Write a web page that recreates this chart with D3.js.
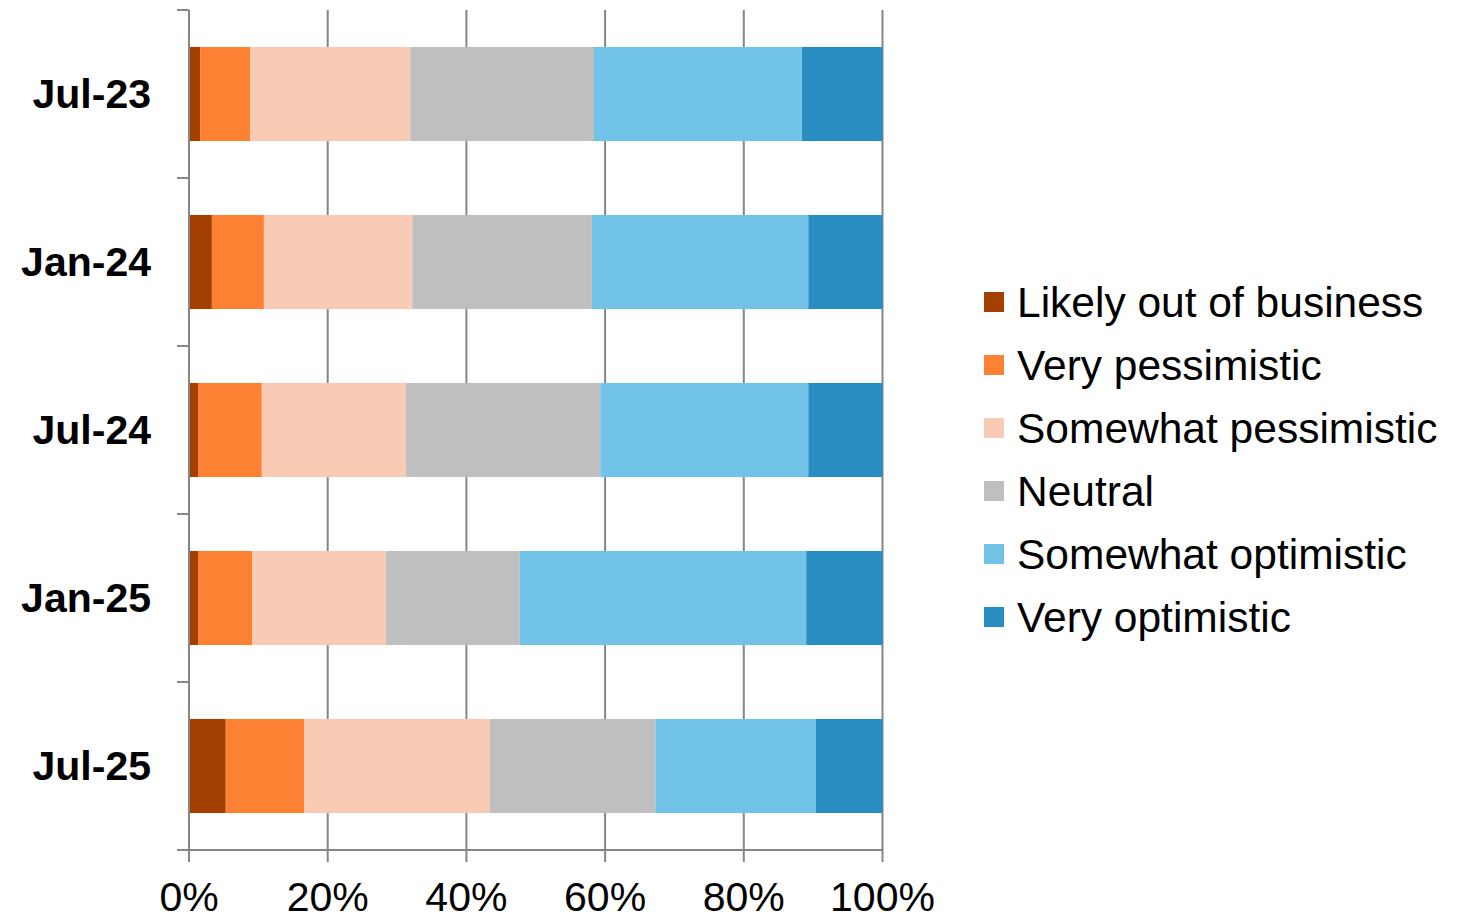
<!DOCTYPE html>
<html>
<head>
<meta charset="utf-8">
<script src="https://cdn.jsdelivr.net/npm/d3@7"></script>
<style>
  body { margin: 0; background: #fff; }
  text { font-family: "Liberation Sans", Arial, sans-serif; }
</style>
</head>
<body>
<div id="chart"></div>
<script>
// categories (top to bottom) and series, values in percent
var periods = ["Jul-23", "Jan-24", "Jul-24", "Jan-25", "Jul-25"];
var seriesNames = ["Likely out of business", "Very pessimistic", "Somewhat pessimistic",
                   "Neutral", "Somewhat optimistic", "Very optimistic"];
var outOfBusiness      = [1.6, 3.3, 1.3, 1.3, 5.3];
var veryPessimistic    = [7.2, 7.5, 9.2, 7.8, 11.3];
var somewhatPessimistic= [23.1, 21.4, 20.8, 19.3, 26.8];
var neutral            = [26.5, 25.9, 28.0, 19.3, 23.9];
var somewhatOptimistic = [30.0, 31.2, 30.0, 41.3, 23.1];
var veryOptimistic     = [11.6, 10.7, 10.7, 11.0, 9.6];
var colors = ["#a33f00", "#fd8133", "#f9cab4", "#bfbfbf", "#71c4e8", "#298dc2"];
var xTicks = [0, 20, 40, 60, 80, 100];

var allSeries = [outOfBusiness, veryPessimistic, somewhatPessimistic,
                 neutral, somewhatOptimistic, veryOptimistic];

// build a table for d3.stack
var table = periods.map(function(p, i) {
  var row = { period: p };
  seriesNames.forEach(function(s, j) { row[s] = allSeries[j][i]; });
  return row;
});
var stacked = d3.stack().keys(seriesNames)
  .offset(d3.stackOffsetExpand)(table);

// set the dimensions and margins of the graph
var margin = {top: 10, right: 575, bottom: 70, left: 189},
    width = 1457 - margin.left - margin.right,
    height = 920 - margin.top - margin.bottom;

var svg = d3.select("#chart")
  .append("svg")
    .attr("width", 1457)
    .attr("height", 920);
var g = svg.append("g")
    .attr("transform", "translate(" + margin.left + "," + margin.top + ")");

var x = d3.scaleLinear()
  .domain([0, 1])
  .range([0, 693.5]);
var y = d3.scaleBand()
  .domain(periods)
  .range([0, 840])
  .paddingInner(0.44)
  .paddingOuter(0.22);

// vertical gridlines
g.append("g")
  .selectAll("line")
  .data(xTicks.slice(1))
  .enter()
  .append("line")
    .attr("x1", function(d) { return x(d / 100) })
    .attr("x2", function(d) { return x(d / 100) })
    .attr("y1", 0)
    .attr("y2", 840)
    .attr("stroke", "#868686")
    .attr("stroke-width", 2);

// the bars
g.append("g")
  .selectAll("g")
  .data(stacked)
  .enter()
  .append("g")
    .attr("fill", function(d, i) { return colors[i] })
  .selectAll("rect")
  .data(function(d) { return d })
  .enter()
  .append("rect")
    .attr("x", function(d) { return x(d[0]) })
    .attr("width", function(d) { return x(d[1]) - x(d[0]) })
    .attr("y", function(d) { return y(d.data.period) })
    .attr("height", y.bandwidth());

// Y axis: ticks between categories
var yAxisG = g.append("g");
yAxisG.append("line")
  .attr("x1", 0).attr("x2", 0)
  .attr("y1", 0).attr("y2", 840)
  .attr("stroke", "#868686").attr("stroke-width", 2);
yAxisG.selectAll(".tk")
  .data(d3.range(periods.length + 1))
  .enter()
  .append("line")
    .attr("x1", -12).attr("x2", 0)
    .attr("y1", function(d) { return d * 168 })
    .attr("y2", function(d) { return d * 168 })
    .attr("stroke", "#868686").attr("stroke-width", 2);
yAxisG.selectAll("text")
  .data(periods)
  .enter()
  .append("text")
    .attr("x", -38)
    .attr("y", function(d) { return y(d) + y.bandwidth() / 2 })
    .attr("dy", "0.34em")
    .attr("text-anchor", "end")
    .attr("font-size", "41px")
    .attr("font-weight", "bold")
    .text(function(d) { return d });

// X axis
var xAxisG = g.append("g")
  .attr("transform", "translate(0,840)");
xAxisG.append("line")
  .attr("x1", -12).attr("x2", x(1))
  .attr("stroke", "#868686").attr("stroke-width", 2);
xAxisG.selectAll(".tk")
  .data(xTicks)
  .enter()
  .append("line")
    .attr("x1", function(d) { return x(d / 100) })
    .attr("x2", function(d) { return x(d / 100) })
    .attr("y1", 0).attr("y2", 12)
    .attr("stroke", "#868686").attr("stroke-width", 2);
xAxisG.selectAll("text")
  .data(xTicks)
  .enter()
  .append("text")
    .attr("x", function(d) { return x(d / 100) })
    .attr("y", 61)
    .attr("text-anchor", "middle")
    .attr("font-size", "41px")
    .text(function(d) { return d + "%" });

// legend
var legend = svg.append("g")
  .attr("transform", "translate(984,302)");
var item = legend.selectAll("g")
  .data(seriesNames)
  .enter()
  .append("g")
    .attr("transform", function(d, i) { return "translate(0," + (i * 63) + ")" });
item.append("rect")
  .attr("x", 0).attr("y", -10)
  .attr("width", 20).attr("height", 20)
  .attr("fill", function(d, i) { return colors[i] });
item.append("text")
  .attr("x", 33)
  .attr("dy", "0.35em")
  .attr("font-size", "42.5px")
  .text(function(d) { return d });
</script>
</body>
</html>
